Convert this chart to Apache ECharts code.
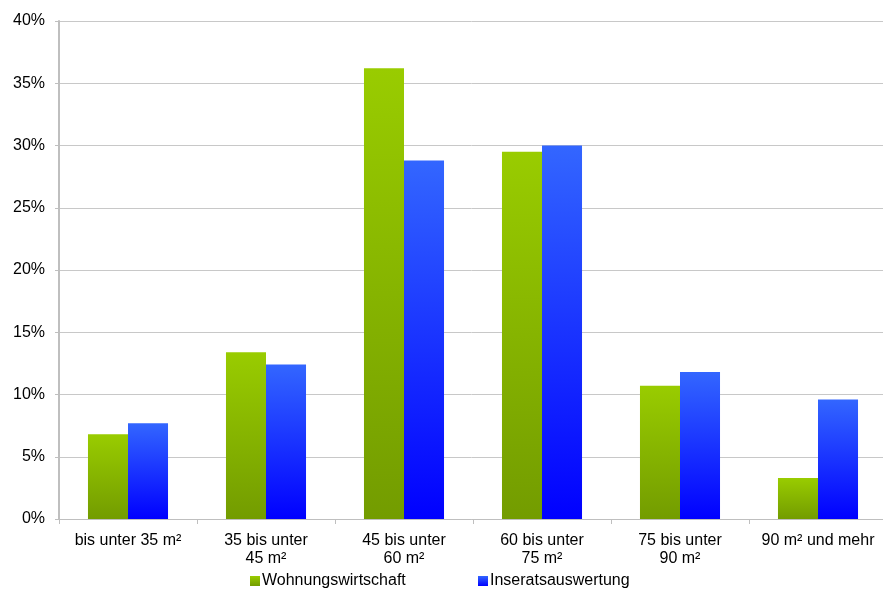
<!DOCTYPE html>
<html><head><meta charset="utf-8">
<script src="https://cdn.jsdelivr.net/npm/echarts@6/dist/echarts.min.js"></script>
<style>html,body{margin:0;padding:0;background:#fff}#c{width:883px;height:589px}</style>
</head><body><div id="c"></div>
<script>
const categories = ['bis unter 35 m²', '35 bis unter\n45 m²', '45 bis unter\n60 m²', '60 bis unter\n75 m²', '75 bis unter\n90 m²', '90 m² und mehr'];
const seriesNames = ['Wohnungswirtschaft', 'Inseratsauswertung'];
const wohnungswirtschaft = [6.8, 13.4, 36.2, 29.5, 10.7, 3.3];
const inseratsauswertung = [7.7, 12.4, 28.8, 30.0, 11.8, 9.6];

const font = 'Liberation Sans, Arial, sans-serif';
const green = new echarts.graphic.LinearGradient(0,0,0,1,[{offset:0,color:'#99cc00'},{offset:1,color:'#739c00'}]);
const blue = new echarts.graphic.LinearGradient(0,0,0,1,[{offset:0,color:'#3366ff'},{offset:1,color:'#0000ff'}]);
const chart = echarts.init(document.getElementById('c'), null, {renderer:'canvas'});
chart.setOption({
  animation:false,
  backgroundColor:'#fff',
  textStyle:{fontFamily:font},
  grid:{left:59,width:828,top:21,bottom:70,outerBoundsMode:'none',containLabel:false},
  legend:[
    {data:[seriesNames[0]],left:250,top:573,padding:0,itemWidth:10,itemHeight:10,itemGap:4,icon:'rect',
     textStyle:{fontFamily:font,fontSize:16,color:'#000',padding:[0,0,0,-3]}},
    {data:[seriesNames[1]],left:478,top:573,padding:0,itemWidth:10,itemHeight:10,itemGap:4,icon:'rect',
     textStyle:{fontFamily:font,fontSize:16,color:'#000',padding:[0,0,0,-3]}}
  ],
  xAxis:{type:'category',data:categories,
    axisLine:{lineStyle:{color:'#bfbfbf',width:1}},
    axisTick:{show:true,length:5,lineStyle:{color:'#bfbfbf'}},
    axisLabel:{color:'#000',fontSize:16,fontFamily:font,margin:13,lineHeight:18,interval:0}},
  yAxis:{type:'value',min:0,max:40,interval:5,
    axisLine:{show:true,lineStyle:{color:'#bfbfbf',width:2}},
    axisTick:{show:true,length:4,lineStyle:{color:'#bfbfbf'}},
    splitLine:{lineStyle:{color:'#c8c8c8',width:1}},
    axisLabel:{color:'#000',fontSize:16,fontFamily:font,margin:14,formatter:v=>v+'%'}},
  series:[
    {name:seriesNames[0],type:'bar',data:wohnungswirtschaft,barGap:'0%',barCategoryGap:'42%',
     itemStyle:{color:green}},
    {name:seriesNames[1],type:'bar',data:inseratsauswertung,barGap:'0%',barCategoryGap:'42%',
     itemStyle:{color:blue}}
  ]
});
</script></body></html>
